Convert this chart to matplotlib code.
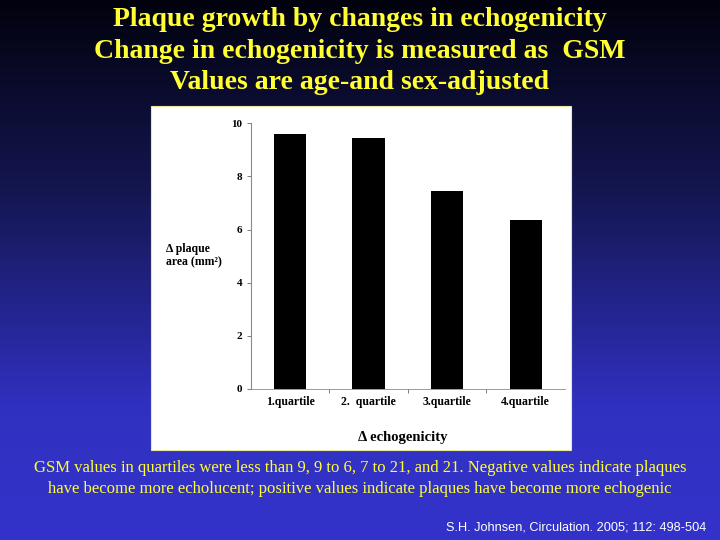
import numpy as np
import matplotlib
matplotlib.use("Agg")
import matplotlib.pyplot as plt
from matplotlib.patches import Rectangle
from matplotlib.colors import LinearSegmentedColormap

categories = ["1.quartile", "2.  quartile", "3.quartile", "4.quartile"]
values = [9.6, 9.45, 7.45, 6.35]
yticks = [0, 2, 4, 6, 8, 10]

title_lines = ["Plaque growth by changes in echogenicity",
               "Change in echogenicity is measured as  GSM",
               "Values are age-and sex-adjusted"]
foot_lines = ["GSM values in quartiles were less than 9, 9 to 6, 7 to 21, and 21. Negative values indicate plaques",
              "have become more echolucent; positive values indicate plaques have become more echogenic"]
citation = "S.H. Johnsen, Circulation. 2005; 112: 498-504"

W, H = 720, 540
fig = plt.figure(figsize=(7.2, 5.4), dpi=100)

# gradient background
bg = fig.add_axes([0, 0, 1, 1])
bg.set_axis_off()
cmap = LinearSegmentedColormap.from_list(
    "slide", [(0.0, "#02020e"), (0.35, "#141650"), (0.75, "#3030c0"), (1.0, "#3333cc")])
grad = np.linspace(0, 1, 256).reshape(-1, 1)
bg.imshow(grad, aspect="auto", cmap=cmap, extent=[0, 1, 0, 1], origin="upper")
bg.set_xlim(0, 1)
bg.set_ylim(0, 1)

# white panel
px0, py0, px1, py1 = 151, 106, 571, 450
bg.add_patch(Rectangle((px0 / W, 1 - py1 / H), (px1 - px0) / W, (py1 - py0) / H,
                       transform=bg.transAxes, facecolor="white",
                       edgecolor="#e8e8a0", linewidth=0.8, zorder=2))

serif = "Liberation Serif"
yellow = "#ffff33"

for i, (line, base) in enumerate(zip(title_lines, [26, 57.5, 89])):
    fig.text(0.5, 1 - base / H, line, ha="center", va="baseline",
             fontsize=20, fontweight="bold", family=serif, color=yellow)

# main axes
ax_l, ax_r, ax_t, ax_b = 250.7, 565, 123.3, 389
ax = fig.add_axes([ax_l / W, 1 - ax_b / H, (ax_r - ax_l) / W, (ax_b - ax_t) / H])
ax.set_facecolor("none")
x = np.arange(len(categories))
ax.bar(x, values, width=0.41, color="black")
ax.set_xlim(-0.5, 3.5)
ax.set_ylim(0, 10)
ax.set_yticks(yticks)
ax.set_yticklabels([str(v) for v in yticks], fontsize=8, fontweight="bold", family=serif)
ax.set_xticks([0.5, 1.5, 2.5])
ax.set_xticklabels([])
ax.tick_params(axis="x", length=3, width=0.6, color="#666666", direction="out")
ax.tick_params(axis="y", length=3, width=0.6, color="#666666", direction="out", pad=3)
for s in ["top", "right"]:
    ax.spines[s].set_visible(False)
ax.spines["left"].set_color("#8a8a8a")
ax.spines["bottom"].set_color("#8a8a8a")
ax.spines["left"].set_linewidth(0.8)
ax.spines["bottom"].set_linewidth(0.6)
for xi, lab in zip(x, categories):
    ax.text(xi, -0.5, lab, ha="center", va="center", fontsize=8.5, fontweight="bold",
            family=serif, transform=ax.transData, clip_on=False)

fig.text(403 / W, 1 - 438 / H, "\u0394 echogenicity", ha="center", va="center",
         fontsize=10.5, fontweight="bold", family=serif)
fig.text(166 / W, 1 - 256 / H, "\u0394 plaque\narea (mm\u00b2)", ha="left", va="center",
         fontsize=8.5, fontweight="bold", family=serif, linespacing=1.15)

for i, line in enumerate(foot_lines):
    fig.text(0.5, 1 - (468 + 21 * i) / H, line, ha="center", va="center",
             fontsize=12, family=serif, color=yellow)

fig.text(706 / W, 1 - 527 / H, citation, ha="right", va="center",
         fontsize=9.2, family="Liberation Sans", color="white")

fig.savefig("out.png", dpi=100)
